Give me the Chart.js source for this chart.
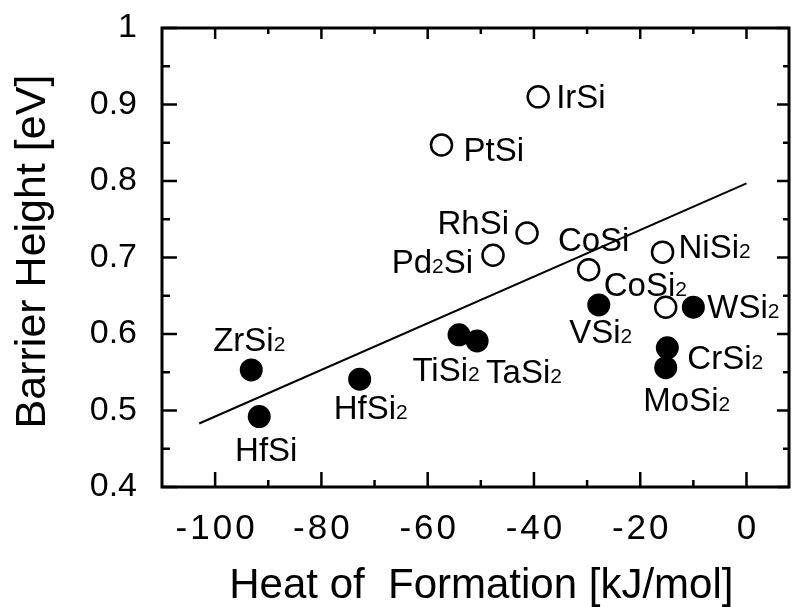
<!DOCTYPE html>
<html>
<head>
<meta charset="utf-8">
<script src="https://cdn.jsdelivr.net/npm/chart.js@4.4.0/dist/chart.umd.min.js"></script>
<style>
  body { margin: 0; background: #fff; overflow: hidden; }
</style>
</head>
<body>
<canvas id="barrierChart" width="802" height="607"></canvas>
<script>
// open circles
const openNames = ['IrSi', 'PtSi', 'RhSi', 'Pd2Si', 'CoSi', 'NiSi2', 'CoSi2'];
const openHeat = [-39.2, -57.4, -41.3, -47.7, -29.7, -15.8, -15.2];
const openBarrier = [0.91, 0.847, 0.732, 0.703, 0.684, 0.707, 0.635];

// filled circles
const filledNames = ['ZrSi2', 'HfSi', 'HfSi2', 'TiSi2', 'TaSi2', 'VSi2', 'WSi2', 'CrSi2', 'MoSi2'];
const filledHeat = [-93.2, -91.7, -72.8, -54.1, -50.7, -27.8, -10.0, -14.9, -15.2];
const filledBarrier = [0.553, 0.492, 0.541, 0.599, 0.591, 0.638, 0.635, 0.582, 0.556];

// straight fit line
const fitHeat = [-103, 0];
const fitBarrier = [0.483, 0.797];

const xTicks = [-100, -80, -60, -40, -20, 0];
const yTicks = [0.4, 0.5, 0.6, 0.7, 0.8, 0.9, 1];

const FONT = '"Liberation Sans", Arial, sans-serif';

// where each name sits next to its marker: dx, dy, align
const labelSpots = {
    IrSi: [18, 0, 'left'],
    PtSi: [22, 5, 'left'],
    RhSi: [-18, -10, 'right'],
    Pd2Si: [-20, 7, 'right'],
    CoSi: [5, -30, 'center'],
    NiSi2: [16, -5, 'left'],
    CoSi2: [-62, -22, 'left'],
    ZrSi2: [-2, -30, 'center'],
    HfSi: [7, 33, 'center'],
    HfSi2: [11, 29, 'center'],
    TiSi2: [-13, 35, 'center'],
    TaSi2: [9, 31, 'left'],
    VSi2: [2, 27, 'center'],
    WSi2: [14, 0, 'left'],
    CrSi2: [20, 10, 'left'],
    MoSi2: [21, 32, 'center']
};

function toPoints(xs, ys) {
    return xs.map((v, i) => ({ x: v, y: ys[i] }));
}

// formula text, digits drawn small
function drawName(ctx, name, x, y, align) {
    const parts = name.match(/[A-Za-z]+|\d+/g);
    let total = 0;
    const runs = parts.map(p => {
        const isNum = /\d/.test(p);
        const font = `${isNum ? 21 : 33}px ${FONT}`;
        ctx.font = font;
        const w = ctx.measureText(p).width;
        total += w;
        return { p, font, w };
    });
    let cx = align === 'left' ? x : align === 'right' ? x - total : x - total / 2;
    const base = y + 11;
    runs.forEach(r => {
        ctx.font = r.font;
        ctx.fillText(r.p, cx, base);
        cx += r.w;
    });
}

const frameAndLabels = {
    id: 'frameAndLabels',
    afterDatasetsDraw(chart) {
        const { ctx, chartArea: a, scales: { x, y } } = chart;
        ctx.save();
        ctx.strokeStyle = '#000';
        ctx.fillStyle = '#000';
        ctx.lineWidth = 3;
        ctx.strokeRect(a.left, a.top, a.right - a.left, a.bottom - a.top);

        ctx.lineWidth = 2.5;
        const tick = (x1, y1, x2, y2) => {
            ctx.beginPath();
            ctx.moveTo(x1, y1);
            ctx.lineTo(x2, y2);
            ctx.stroke();
        };

        // x ticks, majors + halfway minors
        xTicks.forEach((v, i) => {
            const px = x.getPixelForValue(v);
            tick(px, a.bottom, px, a.bottom - 15);
            tick(px, a.top, px, a.top + 11);
            if (i < xTicks.length - 1) {
                const mx = x.getPixelForValue((v + xTicks[i + 1]) / 2);
                tick(mx, a.bottom, mx, a.bottom - 7);
                tick(mx, a.top, mx, a.top + 6);
            }
        });
        yTicks.forEach((v, i) => {
            const py = y.getPixelForValue(v);
            tick(a.left, py, a.left + 15, py);
            tick(a.right, py, a.right - 12, py);
            if (i < yTicks.length - 1) {
                const my = y.getPixelForValue((v + yTicks[i + 1]) / 2);
                tick(a.left, my, a.left + 8, my);
                tick(a.right, my, a.right - 6, my);
            }
        });

        // x tick labels, spaced out like the scan
        ctx.font = `35px ${FONT}`;
        ctx.letterSpacing = '3px';
        ctx.textAlign = 'center';
        ctx.textBaseline = 'middle';
        xTicks.forEach(v => ctx.fillText(String(v), x.getPixelForValue(v) + 1.5, a.bottom + 42));
        ctx.letterSpacing = '0px';
        ctx.textAlign = 'left';
        ctx.textBaseline = 'alphabetic';

        // names
        const put = (names, xs, ys) => {
            names.forEach((n, i) => {
                const s = labelSpots[n];
                drawName(ctx, n, x.getPixelForValue(xs[i]) + s[0], y.getPixelForValue(ys[i]) + s[1], s[2]);
            });
        };
        put(openNames, openHeat, openBarrier);
        put(filledNames, filledHeat, filledBarrier);
        ctx.restore();
    }
};

Chart.defaults.color = '#000';
Chart.defaults.font.family = FONT;

new Chart(document.getElementById('barrierChart'), {
    type: 'scatter',
    data: {
        datasets: [
            {
                data: toPoints(openHeat, openBarrier),
                pointStyle: 'circle',
                pointRadius: 10.5,
                backgroundColor: '#fff',
                borderColor: '#000',
                borderWidth: 2.5,
                order: 1
            },
            {
                data: toPoints(filledHeat, filledBarrier),
                pointStyle: 'circle',
                pointRadius: 11.5,
                backgroundColor: '#000',
                borderColor: '#000',
                borderWidth: 0,
                order: 1
            },
            {
                type: 'line',
                data: toPoints(fitHeat, fitBarrier),
                borderColor: '#000',
                borderWidth: 2,
                pointRadius: 0,
                fill: false,
                order: 3
            }
        ]
    },
    options: {
        responsive: false,
        animation: false,
        layout: { padding: { top: 28, right: 0, left: 0, bottom: 0 } },
        plugins: {
            legend: { display: false },
            tooltip: { enabled: false }
        },
        scales: {
            x: {
                type: 'linear',
                min: -110,
                max: 8,
                grid: { display: false, drawTicks: false },
                border: { display: false },
                afterBuildTicks: s => { s.ticks = xTicks.map(v => ({ value: v })); },
                afterFit: s => { s.height = 120; s.paddingLeft = 0; s.paddingRight = 0; },
                ticks: { display: false },
                title: {
                    display: true,
                    text: ' Heat of  Formation [kJ/mol]',
                    font: { size: 42 },
                    padding: { top: 0, bottom: -5 }
                }
            },
            y: {
                type: 'linear',
                min: 0.4,
                max: 1,
                grid: { display: false, drawTicks: false },
                border: { display: false },
                afterBuildTicks: s => { s.ticks = yTicks.map(v => ({ value: v })); },
                afterFit: s => { s.width = 162; s.paddingTop = 0; s.paddingBottom = 0; },
                ticks: {
                    padding: 25,
                    font: { size: 34 },
                    callback: v => (v === 1 ? '1' : v.toFixed(1))
                },
                title: {
                    display: true,
                    text: ' Barrier Height [eV]',
                    font: { size: 43 },
                    padding: { top: 7, bottom: 0 }
                }
            }
        }
    },
    plugins: [frameAndLabels]
});
</script>
</body>
</html>
